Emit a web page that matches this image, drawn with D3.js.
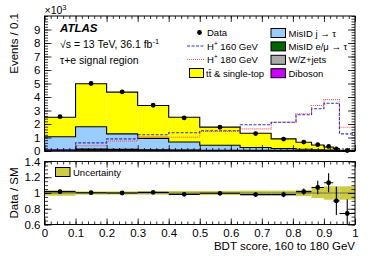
<!DOCTYPE html>
<html>
<head>
<meta charset="utf-8">
<script src="https://cdn.jsdelivr.net/npm/d3@7"></script>
<style>
  body { margin: 0; background: #fff; }
  svg text { font-family: "Liberation Sans", Arial, sans-serif; }
</style>
</head>
<body>
<svg id="chart" width="374" height="268"></svg>
<script>
// bin edges of the BDT score
const edges = [0, 0.1, 0.2, 0.3, 0.4, 0.5, 0.63, 0.73, 0.81, 0.86, 0.9, 0.93, 0.95, 1];

// backgrounds, events / 0.1 in units of 10^3
const diboson = [0.01, 0.012, 0.01, 0.008, 0.006, 0.005, 0.004, 0.003, 0.002, 0.002, 0.001, 0.001, 0.0];
const wzjets = [0.06, 0.08, 0.07, 0.05, 0.04, 0.03, 0.025, 0.02, 0.015, 0.01, 0.008, 0.005, 0.002];
const misidLep = [0.04, 0.05, 0.04, 0.03, 0.025, 0.02, 0.015, 0.01, 0.008, 0.006, 0.004, 0.002, 0.001];
const misidJet = [0.95, 1.65, 1.15, 0.85, 0.6, 0.37, 0.22, 0.14, 0.1, 0.07, 0.05, 0.03, 0.01];
const totalBkg = [2.5, 4.98, 4.36, 3.37, 2.5, 1.77, 1.32, 0.9, 0.65, 0.44, 0.3, 0.17, 0.05];

// data
const dataVals = [2.54, 5.0, 4.38, 3.39, 2.45, 1.76, 1.29, 0.88, 0.66, 0.47, 0.34, 0.15, 0.037];

// signals
const hp160 = [0.1, 0.6, 0.9, 1.2, 1.35, 1.5, 1.95, 2.13, 2.68, 3.13, 3.54, 3.54, 1.27];
const hp180 = [0.1, 0.4, 0.73, 1.07, 1.02, 1.45, 1.64, 2.13, 2.76, 3.37, 3.81, 3.81, 1.76];

// ratio panel
const ratioVals = [1.017, 1.004, 1.0, 1.008, 0.983, 0.996, 0.98, 0.98, 1.017, 1.07, 1.13, 0.90, 0.74];
const ratioErr = [0.02, 0.015, 0.015, 0.018, 0.02, 0.025, 0.03, 0.035, 0.04, 0.085, 0.12, 0.18, 0.18];
const uncHalf = [0.035, 0.02, 0.02, 0.02, 0.025, 0.025, 0.03, 0.03, 0.04, 0.065, 0.085, 0.085, 0.085];

const xTicks = [0, 0.1, 0.2, 0.3, 0.4, 0.5, 0.6, 0.7, 0.8, 0.9, 1];
const yTicks = [0, 1, 2, 3, 4, 5, 6, 7, 8, 9];
const rTicks = [0.6, 0.8, 1, 1.2, 1.4];

const ttbar = totalBkg.map((t, i) => t - diboson[i] - wzjets[i] - misidLep[i] - misidJet[i]);

const svg = d3.select("#chart");
const left = 44.5, right = 355;
const main = { top: 16, bottom: 151 };
const rat = { top: 161.5, bottom: 224.5 };

const x = d3.scaleLinear().domain([0, 1]).range([left, right]);
const y = d3.scaleLinear().domain([0, 10]).range([main.bottom, main.top]);
const yr = d3.scaleLinear().domain([0.6, 1.4]).range([rat.bottom, rat.top]);

const bins = edges.slice(0, -1).map((e, i) => ({
  lo: e, hi: edges[i + 1], mid: (e + edges[i + 1]) / 2,
  diboson: diboson[i], wz: wzjets[i], lep: misidLep[i], jet: misidJet[i], tt: ttbar[i]
}));

const keys = ["diboson", "wz", "lep", "jet", "tt"];
const fills = { diboson: "#cc00ff", wz: "#aaaaaa", lep: "#006600", jet: "#99ccff", tt: "#ffff00" };
const stacked = d3.stack().keys(keys)(bins);

// repeat last bin on the closing edge so curveStepAfter finishes the step
function stepPts(vals) {
  return edges.map((e, i) => ({ e, v: vals[Math.min(i, vals.length - 1)] }));
}
const line = d3.line().curve(d3.curveStepAfter).x(d => x(d.e)).y(d => y(d.v));

const gMain = svg.append("g");
stacked.forEach(layer => {
  gMain.append("g").selectAll("rect").data(layer).join("rect")
    .attr("x", d => x(d.data.lo)).attr("width", d => x(d.data.hi) - x(d.data.lo))
    .attr("y", d => y(d[1])).attr("height", d => y(d[0]) - y(d[1]))
    .attr("fill", fills[layer.key]);
});
stacked.forEach(layer => {
  gMain.append("path").attr("d", line(stepPts(layer.map(s => s[1]))))
    .attr("fill", "none").attr("stroke", "#000").attr("stroke-width", 1.1);
});

// signals
gMain.append("path").attr("d", line(stepPts(hp180)))
  .attr("fill", "none").attr("stroke", "#ff5555").attr("stroke-width", 1.2)
  .attr("stroke-dasharray", "1,1");
gMain.append("path").attr("d", line(stepPts(hp160)))
  .attr("fill", "none").attr("stroke", "#3333bb").attr("stroke-width", 1.1)
  .attr("stroke-dasharray", "3,1.5");

// data points
gMain.selectAll("circle.data").data(bins).join("circle")
  .attr("cx", d => x(d.mid)).attr("cy", (d, i) => y(dataVals[i]))
  .attr("r", 2.4).attr("fill", "#000");

// ratio panel: uncertainty band
const gRat = svg.append("g");
gRat.selectAll("rect.unc").data(bins).join("rect")
  .attr("x", d => x(d.lo)).attr("width", d => x(d.hi) - x(d.lo))
  .attr("y", (d, i) => yr(1 + uncHalf[i]))
  .attr("height", (d, i) => yr(1 - uncHalf[i]) - yr(1 + uncHalf[i]))
  .attr("fill", "#cccc44");
gRat.append("line").attr("x1", x(0)).attr("x2", x(1))
  .attr("y1", yr(1)).attr("y2", yr(1)).attr("stroke", "#555").attr("stroke-width", 0.8);

svg.append("clipPath").attr("id", "clipR").append("rect")
  .attr("x", left).attr("y", rat.top).attr("width", right - left).attr("height", rat.bottom - rat.top);
const gPts = gRat.append("g").attr("clip-path", "url(#clipR)");
bins.forEach((d, i) => {
  const cy = yr(ratioVals[i]);
  gPts.append("line").attr("x1", x(d.lo)).attr("x2", x(d.hi)).attr("y1", cy).attr("y2", cy)
    .attr("stroke", "#000").attr("stroke-width", 1.1);
  gPts.append("line").attr("x1", x(d.mid)).attr("x2", x(d.mid))
    .attr("y1", yr(ratioVals[i] + ratioErr[i])).attr("y2", yr(ratioVals[i] - ratioErr[i]))
    .attr("stroke", "#000").attr("stroke-width", 1.1);
  gPts.append("circle").attr("cx", x(d.mid)).attr("cy", cy).attr("r", 2.4).attr("fill", "#000");
});

// frames and inward ticks
function frame(top, bottom, yScale, majors, minors, yLabels, xLabels) {
  const g = svg.append("g");
  const xMinor = d3.range(0, 1.0001, 0.02);
  const mk = (axis, tr, size, vals, fmt) => {
    const a = g.append("g").attr("transform", tr)
      .call(axis.tickValues(vals).tickSize(size).tickPadding(4).tickFormat(fmt || ""));
    a.select(".domain").remove();
    a.selectAll("line").attr("stroke", "#000").attr("stroke-width", 0.8);
    return a;
  };
  mk(d3.axisBottom(x), `translate(0,${bottom})`, -6, xTicks, xLabels ? (d => d3.format("")(+d.toFixed(1))) : null);
  mk(d3.axisBottom(x), `translate(0,${bottom})`, -3, xMinor);
  mk(d3.axisTop(x), `translate(0,${top})`, -6, xTicks);
  mk(d3.axisTop(x), `translate(0,${top})`, -3, xMinor);
  mk(d3.axisLeft(yScale), `translate(${left},0)`, -7, majors, yLabels);
  mk(d3.axisLeft(yScale), `translate(${left},0)`, -3.5, minors);
  mk(d3.axisRight(yScale), `translate(${right},0)`, -7, majors);
  mk(d3.axisRight(yScale), `translate(${right},0)`, -3.5, minors);
  g.selectAll("text").attr("font-size", 11.5).attr("fill", "#000")
    .style("font-family", "'Liberation Sans', Arial, sans-serif");
  g.append("rect").attr("x", left).attr("y", top).attr("width", right - left).attr("height", bottom - top)
    .attr("fill", "none").attr("stroke", "#000").attr("stroke-width", 1);
  return g;
}
frame(main.top, main.bottom, y, yTicks, d3.range(0, 10.001, 0.2), d => d, false);
frame(rat.top, rat.bottom, yr, rTicks, d3.range(0.6, 1.4001, 0.05), d => d3.format("")(+d.toFixed(1)), true);

// axis titles
svg.append("text").attr("transform", "translate(18,13) rotate(-90)")
  .attr("text-anchor", "end").attr("font-size", 11.5).text("Events / 0.1");
svg.append("text").attr("transform", `translate(18,${(rat.top + rat.bottom) / 2}) rotate(-90)`)
  .attr("text-anchor", "middle").attr("font-size", 11.5).text("Data / SM");
svg.append("text").attr("x", right).attr("y", 250).attr("text-anchor", "end")
  .attr("font-size", 11.5).text("BDT score, 160 to 180 GeV");
const mult = svg.append("text").attr("x", left).attr("y", 14).attr("font-size", 10.5);
mult.append("tspan").text("×10");
mult.append("tspan").attr("font-size", 7.5).attr("dy", -4).text("3");

// ATLAS label
svg.append("text").attr("x", 60).attr("y", 32).attr("font-size", 11.5)
  .attr("font-weight", "bold").attr("font-style", "italic").text("ATLAS");
const lum = svg.append("text").attr("x", 60).attr("y", 48).attr("font-size", 10.5);
lum.append("tspan").text("√s = 13 TeV, 36.1 fb");
lum.append("tspan").attr("font-size", 7.5).attr("dy", -4).text("-1");
svg.append("text").attr("x", 60).attr("y", 64).attr("font-size", 10.5).text("τ+e signal region");

// legend
const leg = svg.append("g").attr("font-size", 9.5);
leg.append("circle").attr("cx", 199.5).attr("cy", 32.5).attr("r", 2.4).attr("fill", "#000");
leg.append("text").attr("x", 207).attr("y", 36).text("Data");
leg.append("line").attr("x1", 187).attr("x2", 205).attr("y1", 46).attr("y2", 46)
  .attr("stroke", "#3333bb").attr("stroke-width", 1.1).attr("stroke-dasharray", "3,1.5");
const t1 = leg.append("text").attr("x", 207).attr("y", 49.5);
t1.append("tspan").text("H");
t1.append("tspan").attr("font-size", 6.5).attr("dy", -4).text("+");
t1.append("tspan").attr("dy", 4).text(" 160 GeV");
leg.append("line").attr("x1", 187).attr("x2", 205).attr("y1", 59.5).attr("y2", 59.5)
  .attr("stroke", "#ff5555").attr("stroke-width", 1.2).attr("stroke-dasharray", "1,1");
const t2 = leg.append("text").attr("x", 207).attr("y", 63);
t2.append("tspan").text("H");
t2.append("tspan").attr("font-size", 6.5).attr("dy", -4).text("+");
t2.append("tspan").attr("dy", 4).text(" 180 GeV");
leg.append("rect").attr("x", 189.5).attr("y", 68.5).attr("width", 14).attr("height", 9)
  .attr("fill", fills.tt).attr("stroke", "#000");
leg.append("text").attr("x", 206).attr("y", 76.5).text("tt\u0304 & single-top");

const rightLeg = [
  { k: "jet", label: "MisID j → τ" },
  { k: "lep", label: "MisID e/μ → τ" },
  { k: "wz", label: "W/Z+jets" },
  { k: "diboson", label: "Diboson" }
];
rightLeg.forEach((d, i) => {
  const yy = 28.5 + i * 13.4;
  leg.append("rect").attr("x", 271).attr("y", yy).attr("width", 14.5).attr("height", 9)
    .attr("fill", fills[d.k]).attr("stroke", "#000");
  leg.append("text").attr("x", 288.5).attr("y", yy + 8).text(d.label);
});

// ratio legend
svg.append("rect").attr("x", 55.5).attr("y", 167.5).attr("width", 14.5).attr("height", 9)
  .attr("fill", "#cccc44").attr("stroke", "#000");
svg.append("text").attr("x", 73).attr("y", 176).attr("font-size", 9.5).text("Uncertainty");
</script>
</body>
</html>
